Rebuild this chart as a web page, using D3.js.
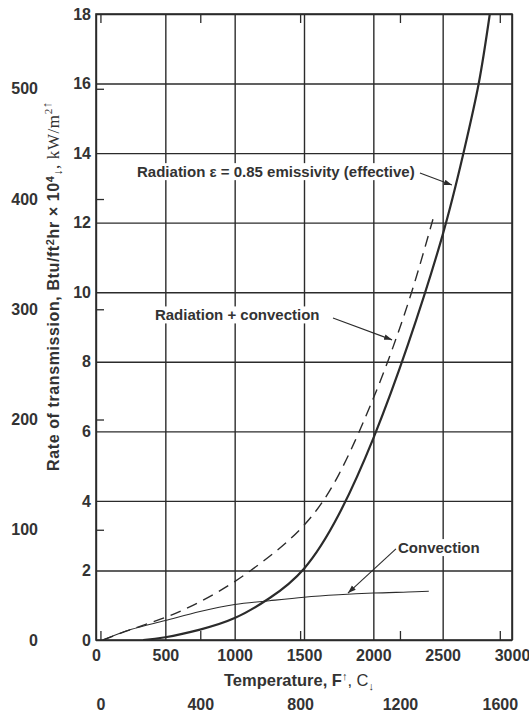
<!DOCTYPE html>
<html><head><meta charset="utf-8">
<script src="https://cdn.jsdelivr.net/npm/d3@7"></script>
<style>
body{margin:0;background:#fff;}
svg{display:block;}
.lab{font-family:"Liberation Sans","Arial",sans-serif;font-weight:bold;fill:#333;}
</style></head>
<body>
<svg id="c" width="529" height="716"></svg>
<script>
// ---- data ----
const fTicks = [0,500,1000,1500,2000,2500,3000];
const cTicks = [0,400,800,1200,1600];
const btuTicks = [0,2,4,6,8,10,12,14,16,18];
const kwTicks = [0,100,200,300,400,500];

const radiationF = [340,500,750,1000,1250,1500,1750,2000,2250,2500,2650,2760,2840];
const radiationV = [0,0.08,0.3,0.63,1.2,2.05,3.6,5.8,8.5,11.65,14.0,16.0,18.0];

const convectionF = [50,250,500,750,1000,1250,1500,1750,2000,2250,2400];
const convectionV = [0,0.3,0.56,0.82,1.02,1.13,1.23,1.3,1.35,1.38,1.4];

const sumF = [50,250,500,750,1000,1250,1500,1750,2000,2140,2280,2430];
const sumV = [0,0.3,0.65,1.1,1.68,2.4,3.3,4.75,6.95,8.4,10.05,12.1];

// annotations: text, label anchor (F, value), arrow from/to (F, value)
const annoText = ["Radiation \u03B5 = 0.85 emissivity (effective)","Radiation + convection","Convection"];
const annoLabel = [[296,13.46],[425,9.34],[2178,2.65]];
const annoArrow = [[[2336,13.43],[2567,13.08]],[[1709,9.26],[2135,8.63]],[[2163,2.62],[1817,1.35]]];

// ---- scales ----
const svg = d3.select("#c");
const x = d3.scaleLinear().domain([0,3000]).range([96,512]);
const y = d3.scaleLinear().domain([0,18]).range([640,14]);
const xC = d3.scaleLinear().domain([(0-32)*5/9,(3000-32)*5/9]).range([96,512]);
const BTU_TO_KW = 31.546; // 1e4 Btu/ft2hr in kW/m2
const yK = d3.scaleLinear().domain([0,18*BTU_TO_KW]).range([640,14]);
const W = 512-96, H = 640-14;
const ink = "#2b2b2b";

// grid
const gx = svg.append("g").attr("transform","translate(0,14)")
  .call(d3.axisBottom(x).tickValues(fTicks).tickSize(H).tickFormat(""));
const gy = svg.append("g").attr("transform","translate(96,0)")
  .call(d3.axisRight(y).tickValues(btuTicks).tickSize(W).tickFormat(""));
[gx,gy].forEach(g=>{g.select(".domain").remove();g.selectAll("line").attr("stroke",ink).attr("stroke-width",1.4);});

// frame
svg.append("rect").attr("x",96).attr("y",14).attr("width",W).attr("height",H)
  .attr("fill","none").attr("stroke",ink).attr("stroke-width",1.6);

// inner ticks for secondary units
function inner(g){g.select(".domain").remove();g.selectAll("line").attr("stroke",ink).attr("stroke-width",1.3);}
svg.append("g").attr("transform","translate(0,640)")
  .call(d3.axisTop(xC).tickValues(cTicks).tickSize(9).tickFormat("")).call(inner);
svg.append("g").attr("transform","translate(0,14)")
  .call(d3.axisBottom(xC).tickValues(cTicks).tickSize(9).tickFormat("")).call(inner);
svg.append("g").attr("transform","translate(96,0)")
  .call(d3.axisRight(yK).tickValues(kwTicks.slice(1)).tickSize(8).tickFormat("")).call(inner);

// tick labels via axes
function labels(g){g.select(".domain").remove();g.selectAll("line").remove();
  g.selectAll("text").attr("class","lab").attr("font-size",16).attr("fill","#333");}
svg.append("g").attr("transform","translate(0,640)")
  .call(d3.axisBottom(x).tickValues(fTicks).tickSize(0).tickPadding(10).tickFormat(d3.format("d"))).call(labels);
svg.append("g").attr("transform","translate(0,691)")
  .call(d3.axisBottom(xC).tickValues(cTicks).tickSize(0).tickPadding(8).tickFormat(d3.format("d"))).call(labels);
svg.append("g").attr("transform","translate(91,0)")
  .call(d3.axisLeft(y).tickValues(btuTicks).tickSize(0).tickPadding(0).tickFormat(d3.format("d"))).call(labels);
svg.append("g").attr("transform","translate(38,0)")
  .call(d3.axisLeft(yK).tickValues(kwTicks).tickSize(0).tickPadding(0).tickFormat(d3.format("d"))).call(labels);

// axis titles
const xt = svg.append("text").attr("class","lab").attr("x",299).attr("y",686)
  .attr("text-anchor","middle").attr("font-size",16.5);
xt.append("tspan").text("Temperature, F");
xt.append("tspan").attr("dy",-6).attr("font-size",11).text("\u2191");
xt.append("tspan").attr("dy",6).attr("font-weight","normal").text(", C");
xt.append("tspan").attr("dy",4).attr("font-size",11).text("\u2193");

const yt = svg.append("text").attr("class","lab").attr("transform","translate(59,286) rotate(-90)")
  .attr("text-anchor","middle").attr("font-size",16).attr("letter-spacing",0.6);
yt.append("tspan").text("Rate of transmission, Btu/ft");
yt.append("tspan").attr("dy",-5).attr("font-size",11).text("2");
yt.append("tspan").attr("dy",5).text("hr \u00D7 10");
yt.append("tspan").attr("dy",-5).attr("font-size",11).text("4");
yt.append("tspan").attr("dy",8).attr("font-size",12).text("\u2193");
yt.append("tspan").attr("dy",-3).attr("font-family","Liberation Serif, serif").attr("font-weight","normal").attr("font-size",17).text(", kW/m");
yt.append("tspan").attr("dy",-7).attr("font-size",11).attr("font-family","Liberation Serif, serif").attr("font-weight","normal").text("2");
yt.append("tspan").attr("dy",-1).attr("font-size",13).text("\u2191");

// curves
const smooth = d3.line().x(d=>x(d[0])).y(d=>y(d[1])).curve(d3.curveNatural);
const line = d3.line().x(d=>x(d[0])).y(d=>y(d[1])).curve(d3.curveCatmullRom.alpha(0.5));
const zip = (a,b)=>a.map((v,i)=>[v,b[i]]);
svg.append("path").attr("d",line(zip(convectionF,convectionV))).attr("fill","none")
  .attr("stroke",ink).attr("stroke-width",1.1);
svg.append("path").attr("d",smooth(zip(sumF,sumV))).attr("fill","none")
  .attr("stroke",ink).attr("stroke-width",1.4).attr("stroke-dasharray","11,7");
svg.append("path").attr("d",smooth(zip(radiationF,radiationV))).attr("fill","none")
  .attr("stroke",ink).attr("stroke-width",2.2);

// annotations
svg.append("defs").append("marker").attr("id","ah").attr("viewBox","0 0 10 10")
  .attr("refX",10).attr("refY",5).attr("markerWidth",8).attr("markerHeight",8)
  .attr("markerUnits","userSpaceOnUse").attr("orient","auto")
  .append("path").attr("d","M0,1.5L10,5L0,8.5Z").attr("fill",ink);

annoText.forEach((t,i)=>{
  const g = svg.append("g");
  const r = g.append("rect").attr("fill","#fff");
  const tx = g.append("text").attr("class","lab").attr("font-size",15)
    .attr("x",x(annoLabel[i][0])).attr("y",y(annoLabel[i][1])).attr("dy","0.35em").text(t);
  const b = tx.node().getBBox();
  r.attr("x",b.x-2).attr("y",b.y).attr("width",b.width+4).attr("height",b.height);
  const a = annoArrow[i];
  svg.append("line").attr("x1",x(a[0][0])).attr("y1",y(a[0][1]))
    .attr("x2",x(a[1][0])).attr("y2",y(a[1][1]))
    .attr("stroke",ink).attr("stroke-width",1.1).attr("marker-end","url(#ah)");
});
</script>
</body></html>
